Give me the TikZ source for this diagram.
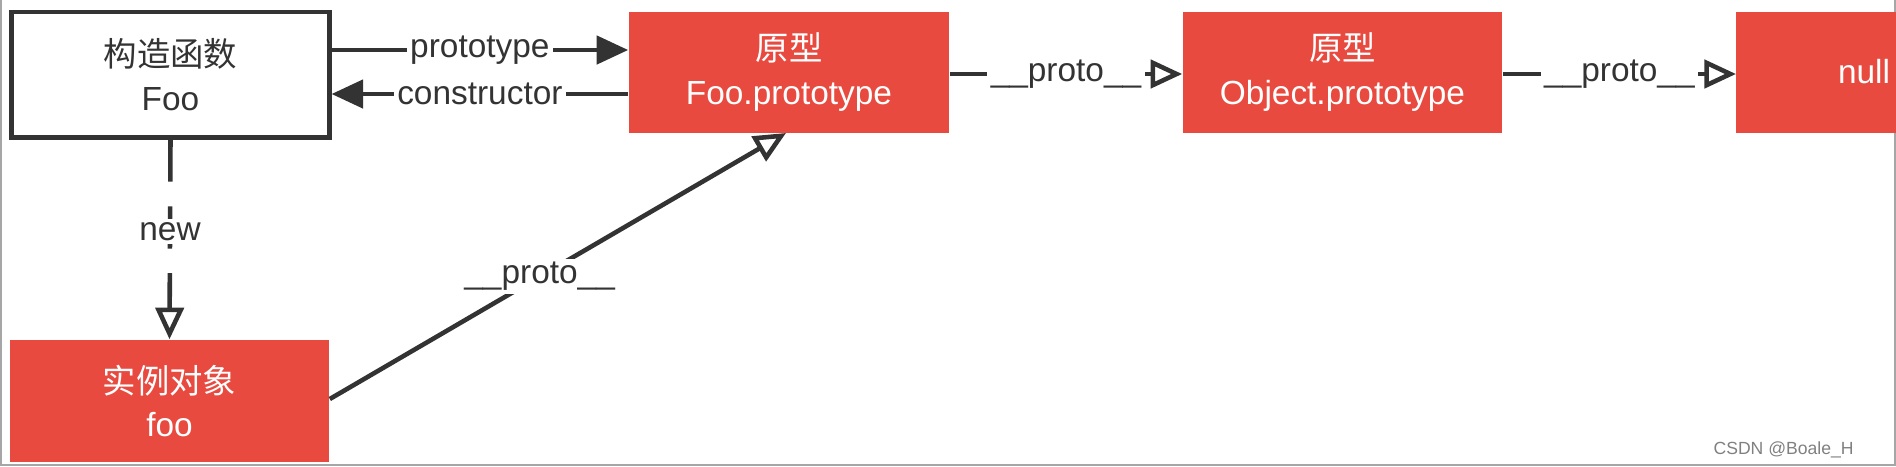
\documentclass[tikz,border=0pt]{standalone}
\usepackage{fontspec}
\setmainfont{Liberation Sans}
\newfontfamily\cjk{Noto Sans CJK SC}
\usetikzlibrary{arrows.meta}
\definecolor{redbox}{HTML}{E84A40}
\definecolor{ink}{HTML}{333333}
\begin{document}
\begin{tikzpicture}[x=0.01cm,y=-0.01cm,
  lbl/.style={fill=white,inner sep=1pt,text=ink,font=\fontsize{9.5}{12}\selectfont},
  redn/.style={fill=redbox,text=white,align=center,font=\fontsize{9.5}{12.5}\selectfont},
  ln/.style={draw=ink,line width=1.3pt},
  solidtip/.style={-{Triangle[length=9pt,width=8pt]}},
  opentip/.style={-{Triangle[open,length=9pt,width=8pt,fill=white]}}]
\useasboundingbox (0,0) rectangle (1896,466);
\draw[gray!70,line width=0.8pt] (0.5,0) -- (0.5,465) -- (1895,465) -- (1895,0);
\node[draw=ink,line width=1.4pt,inner sep=0,align=center,font=\fontsize{9.5}{12.5}\selectfont,text=ink,minimum width=3.17cm,minimum height=1.25cm] (ctor) at (170.5,74.5) {{\cjk 构造函数}\\Foo};
\node[redn,minimum width=3.2cm,minimum height=1.21cm] (fp) at (789,72.5) {{\cjk 原型}\\Foo.prototype};
\node[redn,minimum width=3.19cm,minimum height=1.21cm] (op) at (1342.5,72.5) {{\cjk 原型}\\Object.prototype};
\fill[redbox] (1736,12) rectangle (1896,133);
\node[text=white,font=\fontsize{9.5}{12}\selectfont] (nl) at (1864,72) {null};
\coordinate (nullw) at (1736,74);
\node[redn,minimum width=3.19cm,minimum height=1.22cm] (inst) at (169.5,401) {{\cjk 实例对象}\\foo};
\draw[ln,solidtip] (ctor.east |- 0,50) -- node[lbl]{prototype} (fp.west |- 0,50);
\draw[ln,solidtip] (fp.west |- 0,94) -- node[lbl]{constructor} (ctor.east |- 0,94);
\draw[ln,opentip] (fp.east |- 0,74) -- node[lbl]{\_\_proto\_\_} (op.west |- 0,74);
\draw[ln,opentip] (op.east |- 0,74) -- node[lbl]{\_\_proto\_\_} (nullw);
\draw[ln,dash pattern=on 12pt off 7pt,opentip] (ctor.south) -- node[lbl,pos=0.46]{new} (inst.north);
\draw[ln,opentip] (inst.east |- 0,399) -- node[lbl,pos=0.46]{\_\_proto\_\_} (786,133);
\node[text=gray,font=\fontsize{5}{6}\selectfont,anchor=east] (wm) at (1866,450) {CSDN @Boale\_H};
\end{tikzpicture}
\end{document}
